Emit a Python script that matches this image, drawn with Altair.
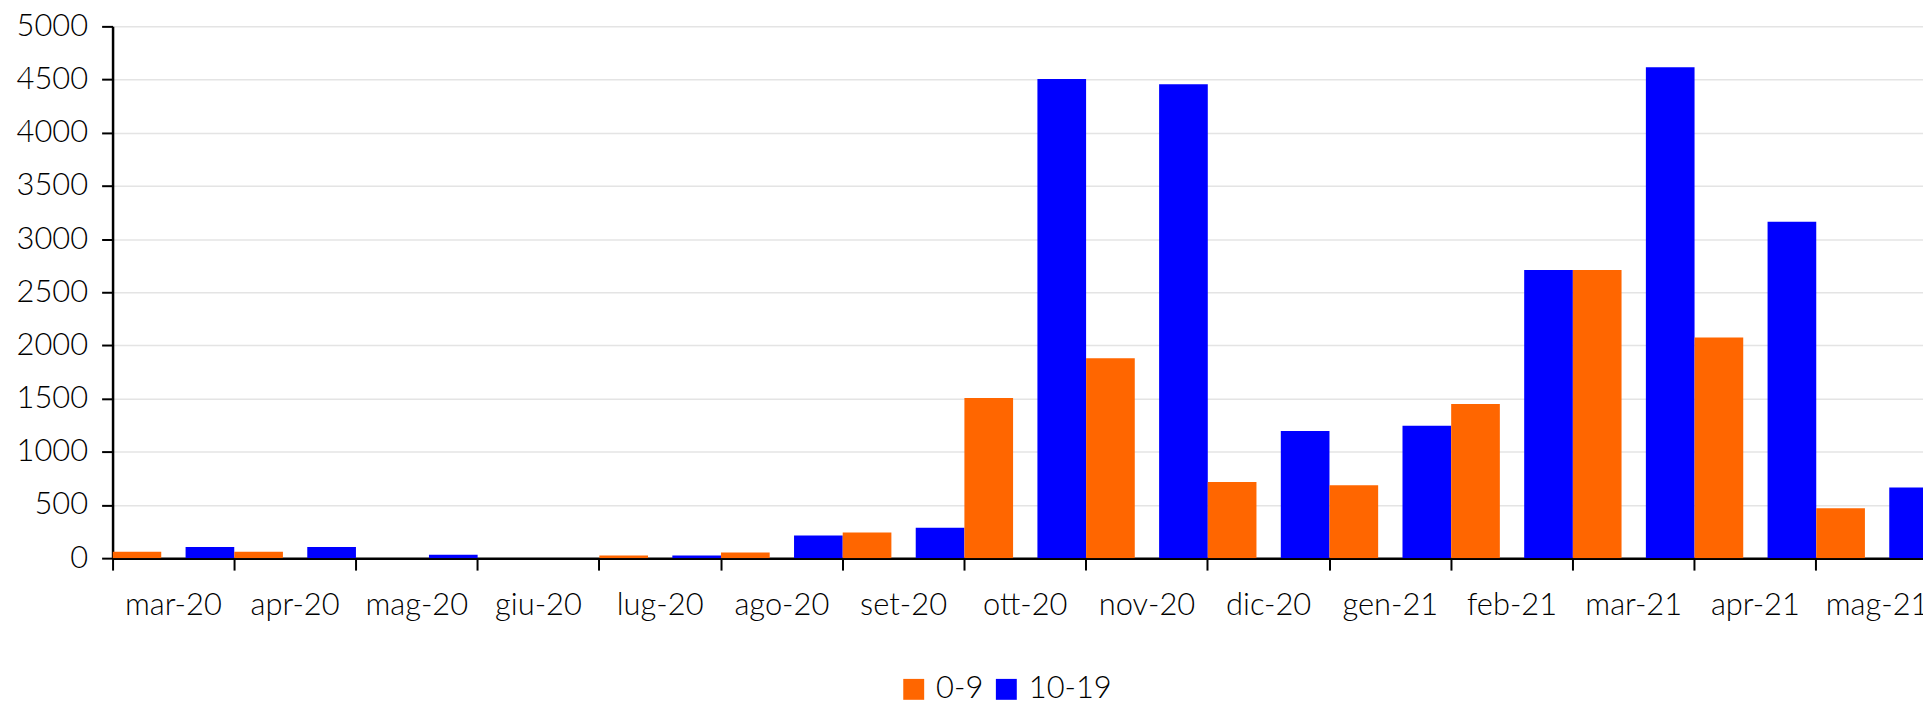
import altair as alt
import pandas as pd

months = ["mar-20", "apr-20", "mag-20", "giu-20", "lug-20", "ago-20", "set-20",
          "ott-20", "nov-20", "dic-20", "gen-21", "feb-21", "mar-21", "apr-21", "mag-21"]
age_0_9 = [59, 59, 0, 0, 25, 53, 240, 1505, 1880, 715, 685, 1450, 2710, 2075, 470]
age_10_19 = [106, 106, 31, 0, 25, 212, 287, 4505, 4455, 1195, 1245, 2710, 4615, 3162, 665]
series = ["0-9", "10-19"]
colors = ["#FF6600", "#0000FF"]
y_ticks = list(range(0, 5001, 500))

rows = []
for m, a, b in zip(months, age_0_9, age_10_19):
    rows.append({"mese": m, "classe": "0-9", "casi": a})
    rows.append({"mese": m, "classe": "10-19", "casi": b})
df = pd.DataFrame(rows)

FONT = "Lato"
WEIGHT = 300
STEP = 122.2
N = len(months)

chart = alt.Chart(df).mark_bar(clip=True).encode(
    x=alt.X("mese:N", sort=months,
            scale=alt.Scale(paddingInner=0, paddingOuter=0, range=[0, STEP * N]),
            axis=alt.Axis(title=None, labelAngle=0, bandPosition=0, labelOffset=0,
                          tickSize=12, tickWidth=2, tickColor="black",
                          domainColor="black", domainWidth=2.5,
                          labelFont=FONT, labelFontWeight=WEIGHT, labelFontSize=31,
                          labelColor="black",
                          labelPadding=21, grid=False, labelOverlap=False,
                          labelFlush=False)),
    xOffset=alt.XOffset("classe:N", sort=series,
                        scale=alt.Scale(paddingInner=1 / 3, paddingOuter=0)),
    y=alt.Y("casi:Q", scale=alt.Scale(domain=[0, 5000], nice=False),
            axis=alt.Axis(title=None, values=y_ticks, format="d", tickSize=11, tickWidth=2,
                          tickColor="black", domainColor="black", domainWidth=2.5,
                          labelFont=FONT, labelFontWeight=WEIGHT, labelFontSize=31,
                          labelColor="black",
                          labelPadding=14, grid=True, gridColor="#e4e4e4",
                          gridWidth=1.5)),
    color=alt.Color("classe:N", sort=series,
                    scale=alt.Scale(domain=series, range=colors),
                    legend=alt.Legend(title=None, orient="none", legendX=789, legendY=650,
                                      direction="horizontal", symbolType="square",
                                      symbolSize=441, symbolStrokeWidth=0, padding=0,
                                      labelFont=FONT, labelFontWeight=WEIGHT,
                                      labelFontSize=31, labelColor="black",
                                      columnPadding=7, labelOffset=7)),
).properties(
    width=1818, height=534,
    autosize=alt.AutoSizeParams(type="none"),
    padding={"left": 105, "top": 17, "right": 0, "bottom": 142},
).configure_view(stroke=None)

chart.save("out.html", embed_options={"renderer": "svg", "actions": False})
